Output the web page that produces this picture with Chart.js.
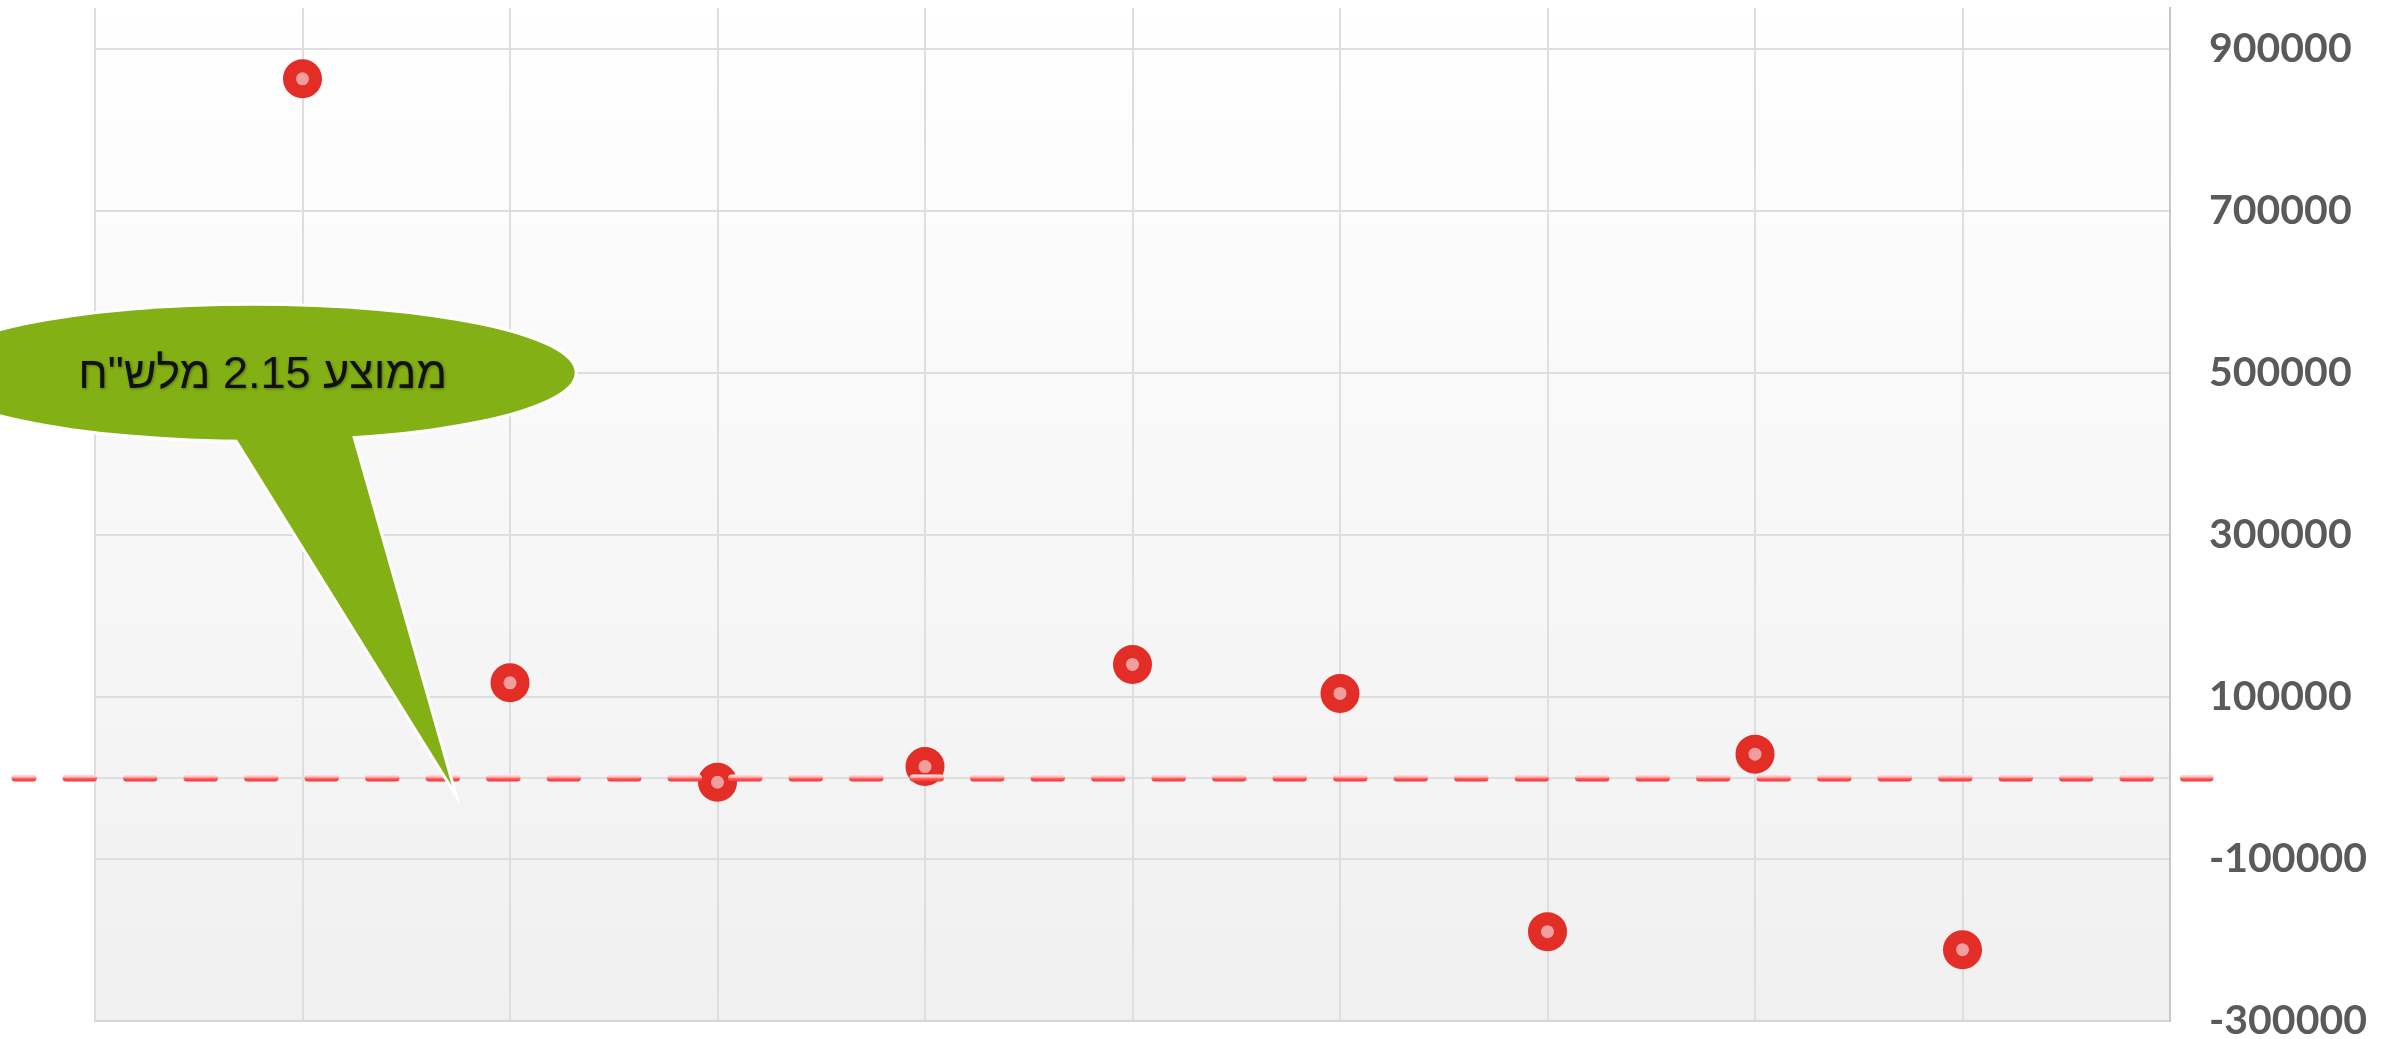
<!DOCTYPE html>
<html>
<head>
<meta charset="utf-8">
<script src="https://cdn.jsdelivr.net/npm/chart.js@4.4.0/dist/chart.umd.min.js"></script>
<style>
  html, body { margin: 0; padding: 0; background: #fff; }
  #wrap { width: 2394px; height: 1039px; position: relative; }
</style>
</head>
<body>
<div id="wrap"><canvas id="chart"></canvas></div>
<script>
// data
const periods = [1, 2, 3, 4, 5, 6, 7, 8, 9];
const values = [862600, 117300, -5400, 14000, 140000, 104200, -189750, 29300, -212000];
const yTickLabels = [900000, 700000, 500000, 300000, 100000, -100000, -300000];
const averageLine = 0;
const calloutText = 'ממוצע 2.15 מלש"ח';

// grid lines = labelled ticks plus the zero line
const gridValues = yTickLabels.concat([averageLine]).sort((a, b) => a - b);

const plotBackground = {
  id: 'plotBackground',
  beforeDraw(chart) {
    const { ctx, chartArea: a } = chart;
    const g = ctx.createLinearGradient(0, a.top, 0, a.bottom);
    g.addColorStop(0, '#ffffff');
    g.addColorStop(1, '#f0f0f0');
    ctx.save();
    ctx.fillStyle = g;
    ctx.fillRect(a.left, a.top, a.right - a.left, a.bottom - a.top);
    ctx.restore();
  }
};

const averageDash = {
  id: 'averageDash',
  afterDatasetsDraw(chart) {
    const { ctx, chartArea: a } = chart;
    const y = chart.scales.y.getPixelForValue(averageLine);
    const g = ctx.createLinearGradient(0, y - 3.5, 0, y + 3.5);
    g.addColorStop(0, '#fff2f2');
    g.addColorStop(0.4, '#ffb4b4');
    g.addColorStop(0.6, '#ff5c5c');
    g.addColorStop(1, '#f23232');
    ctx.save();
    ctx.strokeStyle = g;
    ctx.lineWidth = 7;
    ctx.lineCap = 'round';
    ctx.setLineDash([27.5, 33]);
    ctx.lineDashOffset = 9.5;
    ctx.beginPath();
    ctx.moveTo(a.left - 80, y);
    ctx.lineTo(a.right + 40, y);
    ctx.stroke();
    ctx.restore();
  }
};

const callout = {
  id: 'callout',
  afterDraw(chart) {
    const { ctx } = chart;
    const xs = chart.scales.x, ys = chart.scales.y;
    const cx = xs.getPixelForValue(0.76);
    const cy = ys.getPixelForValue(500000);
    const tipX = xs.getPixelForValue(1.72);
    const tipY = ys.getPixelForValue(-10000);
    const rx = 322, ry = 67;

    ctx.save();
    // white outline first, then the green body over it
    ctx.strokeStyle = '#ffffff';
    ctx.lineWidth = 6;
    ctx.beginPath();
    ctx.ellipse(cx, cy, rx, ry, 0, 0, Math.PI * 2);
    ctx.stroke();
    ctx.beginPath();
    ctx.moveTo(cx - 20, cy + 60);
    ctx.lineTo(tipX, tipY);
    ctx.lineTo(cx + 98, cy + 58);
    ctx.stroke();

    ctx.fillStyle = '#83b014';
    ctx.beginPath();
    ctx.moveTo(cx - 20, cy + 60);
    ctx.lineTo(tipX, tipY);
    ctx.lineTo(cx + 98, cy + 58);
    ctx.closePath();
    ctx.fill();
    ctx.beginPath();
    ctx.ellipse(cx, cy, rx, ry, 0, 0, Math.PI * 2);
    ctx.fill();

    ctx.font = '45px "Liberation Sans", Arial, sans-serif';
    ctx.direction = 'rtl';
    ctx.textAlign = 'center';
    ctx.textBaseline = 'middle';
    ctx.shadowColor = 'rgba(0,0,0,0.35)';
    ctx.shadowBlur = 3;
    ctx.shadowOffsetX = 1;
    ctx.shadowOffsetY = 1;
    ctx.fillStyle = '#111111';
    ctx.fillText(calloutText, cx + 10, cy + 3);
    ctx.restore();
  }
};

new Chart(document.getElementById('chart'), {
  type: 'scatter',
  data: {
    datasets: [{
      data: periods.map((p, i) => ({ x: p, y: values[i] })),
      pointRadius: 13,
      pointHoverRadius: 13,
      pointBorderWidth: 13,
      pointHoverBorderWidth: 13,
      pointBackgroundColor: '#f29e9c',
      pointBorderColor: '#e22e27'
    }]
  },
  options: {
    responsive: true,
    maintainAspectRatio: false,
    animation: false,
    layout: { autoPadding: false, padding: { left: 95, top: 8, bottom: 18, right: 0 } },
    plugins: {
      legend: { display: false },
      tooltip: { enabled: false }
    },
    scales: {
      x: {
        type: 'linear',
        min: 0,
        max: 10,
        ticks: { display: false, stepSize: 1 },
        grid: { color: '#dedede', lineWidth: 2, drawTicks: false },
        border: { display: true, color: '#d6d6d6', width: 2 }
      },
      y: {
        position: 'right',
        min: -300000,
        max: 950000,
        afterBuildTicks: s => { s.ticks = gridValues.map(v => ({ value: v })); },
        afterFit: s => { s.width = 224; s.paddingTop = 0; s.paddingBottom = 0; },
        ticks: {
          padding: 39,
          color: '#5a5a5a',
          font: { family: 'Lato', weight: 'bold', size: 41, lineHeight: 0.35 },
          callback: v => yTickLabels.includes(v) ? String(v) : ''
        },
        grid: { color: '#dedede', lineWidth: 2, drawTicks: false },
        border: { color: '#c8c8c8', width: 2 }
      }
    }
  },
  plugins: [plotBackground, averageDash, callout]
});
</script>
</body>
</html>
